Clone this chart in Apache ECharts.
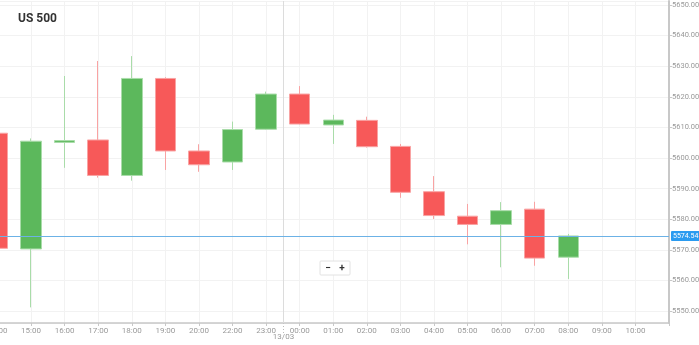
<!DOCTYPE html>
<html>
<head>
<meta charset="utf-8">
<script src="https://cdn.jsdelivr.net/npm/echarts@6/dist/echarts.min.js"></script>
<style>
html,body{margin:0;padding:0;background:#fff;}
#c{width:699px;height:345px;}
</style>
</head>
<body>
<div id="c"></div>
<script>
const categories = ['14:00','15:00','16:00','17:00','18:00','19:00','20:00','22:00','23:00','00:00','01:00','02:00','03:00','04:00','05:00','06:00','07:00','08:00','09:00','10:00','11:00'];
const opens  = [5608.1, 5570.3, 5605.1, 5605.9, 5594.3, 5626.0, 5602.3, 5598.7, 5609.4, 5620.9, 5610.8, 5612.3, 5603.8, 5589.0, 5581.0, 5578.3, 5583.3, 5567.6];
const closes = [5570.5, 5605.5, 5605.7, 5594.3, 5626.0, 5602.3, 5597.8, 5609.3, 5620.9, 5611.1, 5612.4, 5603.7, 5588.8, 5581.2, 5578.3, 5582.8, 5567.3, 5574.54];
const lows   = [5570.0, 5551.2, 5596.8, 5593.6, 5592.6, 5596.1, 5595.5, 5596.1, 5609.2, 5611.0, 5604.6, 5603.4, 5587.0, 5580.1, 5571.8, 5564.3, 5564.8, 5560.5];
const highs  = [5608.5, 5606.4, 5626.8, 5631.7, 5633.3, 5626.4, 5604.5, 5611.9, 5621.7, 5623.5, 5614.1, 5613.5, 5604.6, 5594.1, 5585.0, 5585.6, 5585.7, 5575.2];
const lastPrice = 5574.54;
const dayLabel = '13/03';
const title = 'US 500';

const ohlc = categories.map((c, i) => i < opens.length ? [opens[i], closes[i], lows[i], highs[i]] : '-');

const chart = echarts.init(document.getElementById('c'), null, {renderer: 'canvas'});
const FONT = 'Roboto';
chart.setOption({
  animation: false,
  backgroundColor: '#fff',
  title: {
    text: title, left: 13, top: 8,
    textStyle: {fontFamily: FONT, fontSize: 12, fontWeight: 'bold', color: '#333'}
  },
  grid: {left: -2.5, right: 30, top: 1, bottom: 22, containLabel: false, outerBoundsMode: 'none'},
  xAxis: {
    type: 'category',
    data: categories,
    boundaryGap: false,
    axisLine: {lineStyle: {color: '#c8c8c8', width: 1.5}},
    axisTick: {show: true, length: 3, lineStyle: {color: '#c8c8c8'}},
    axisLabel: {
      fontFamily: FONT, fontSize: 8, color: '#999', margin: 4,
      interval: 0,
      formatter: (v, i) => i === categories.length - 1 ? '' : v
    },
    splitLine: {show: true, lineStyle: {color: '#f2f2f2', width: 1}}
  },
  yAxis: {
    type: 'value',
    position: 'right',
    min: 5546.1,
    max: 5651.3,
    splitNumber: 10,
    scale: true,
    axisLine: {show: true, lineStyle: {color: '#c8c8c8', width: 2}},
    axisTick: {show: true, length: 3, lineStyle: {color: '#c8c8c8'}},
    axisLabel: {
      fontFamily: FONT, fontSize: 7.5, color: '#999', margin: 3,
      showMinLabel: false, showMaxLabel: false,
      formatter: v => (Math.abs(v % 10) < 1e-6 ? v.toFixed(2) : '')
    },
    splitLine: {show: true, lineStyle: {color: '#f2f2f2', width: 1}}
  },
  series: [{
    type: 'candlestick',
    data: ohlc,
    barWidth: 21,
    itemStyle: {
      color: '#5cb85c',
      color0: '#f75959',
      borderColor: '#a9dca9',
      borderColor0: '#f9a3a3',
      borderWidth: 1
    },
    markLine: {
      symbol: 'none',
      silent: true,
      animation: false,
      data: [{yAxis: lastPrice}],
      lineStyle: {color: '#6cb2e6', width: 1, type: 'solid'},
      label: {
        show: true, position: 'end', distance: 2,
        formatter: () => lastPrice.toFixed(2),
        backgroundColor: '#2b9bf0', color: '#fff',
        fontFamily: FONT, fontSize: 7, padding: [2, 2, 1, 2], borderRadius: 1
      }
    }
  }]
});

// day separator between 23:00 and 00:00
const xa = chart.convertToPixel({xAxisIndex: 0}, '23:00');
const xb = chart.convertToPixel({xAxisIndex: 0}, '00:00');
const xs = Math.round((xa + xb) / 2) + 0.5;
const yTop = chart.convertToPixel({yAxisIndex: 0}, 5651.3);
const yBot = chart.convertToPixel({yAxisIndex: 0}, 5546.1);
chart.setOption({
  graphic: [
    {type: 'line', shape: {x1: xs, y1: yTop, x2: xs, y2: yBot}, style: {stroke: '#dcdcdc', lineWidth: 1}, z: 1, silent: true},
    {type: 'line', shape: {x1: xs, y1: yBot, x2: xs, y2: yBot + 10}, style: {stroke: '#bbb', lineWidth: 1, lineDash: [1, 2]}, silent: true},
    {type: 'text', x: xs, y: yBot + 10, style: {text: dayLabel, fill: '#999', font: '8px ' + FONT, textAlign: 'center', textVerticalAlign: 'top'}, silent: true},
    {type: 'group', x: 320, y: 261, children: [
      {type: 'rect', shape: {x: 0, y: 0, width: 30, height: 14, r: 1}, style: {fill: '#fff', stroke: '#e2e2e2', lineWidth: 1}},
      {type: 'text', x: 8, y: 7, style: {text: '−', fill: '#333', font: 'bold 10px ' + FONT, textAlign: 'center', textVerticalAlign: 'middle'}},
      {type: 'text', x: 22, y: 7, style: {text: '+', fill: '#333', font: 'bold 10px ' + FONT, textAlign: 'center', textVerticalAlign: 'middle'}}
    ]}
  ]
});
</script>
</body>
</html>
